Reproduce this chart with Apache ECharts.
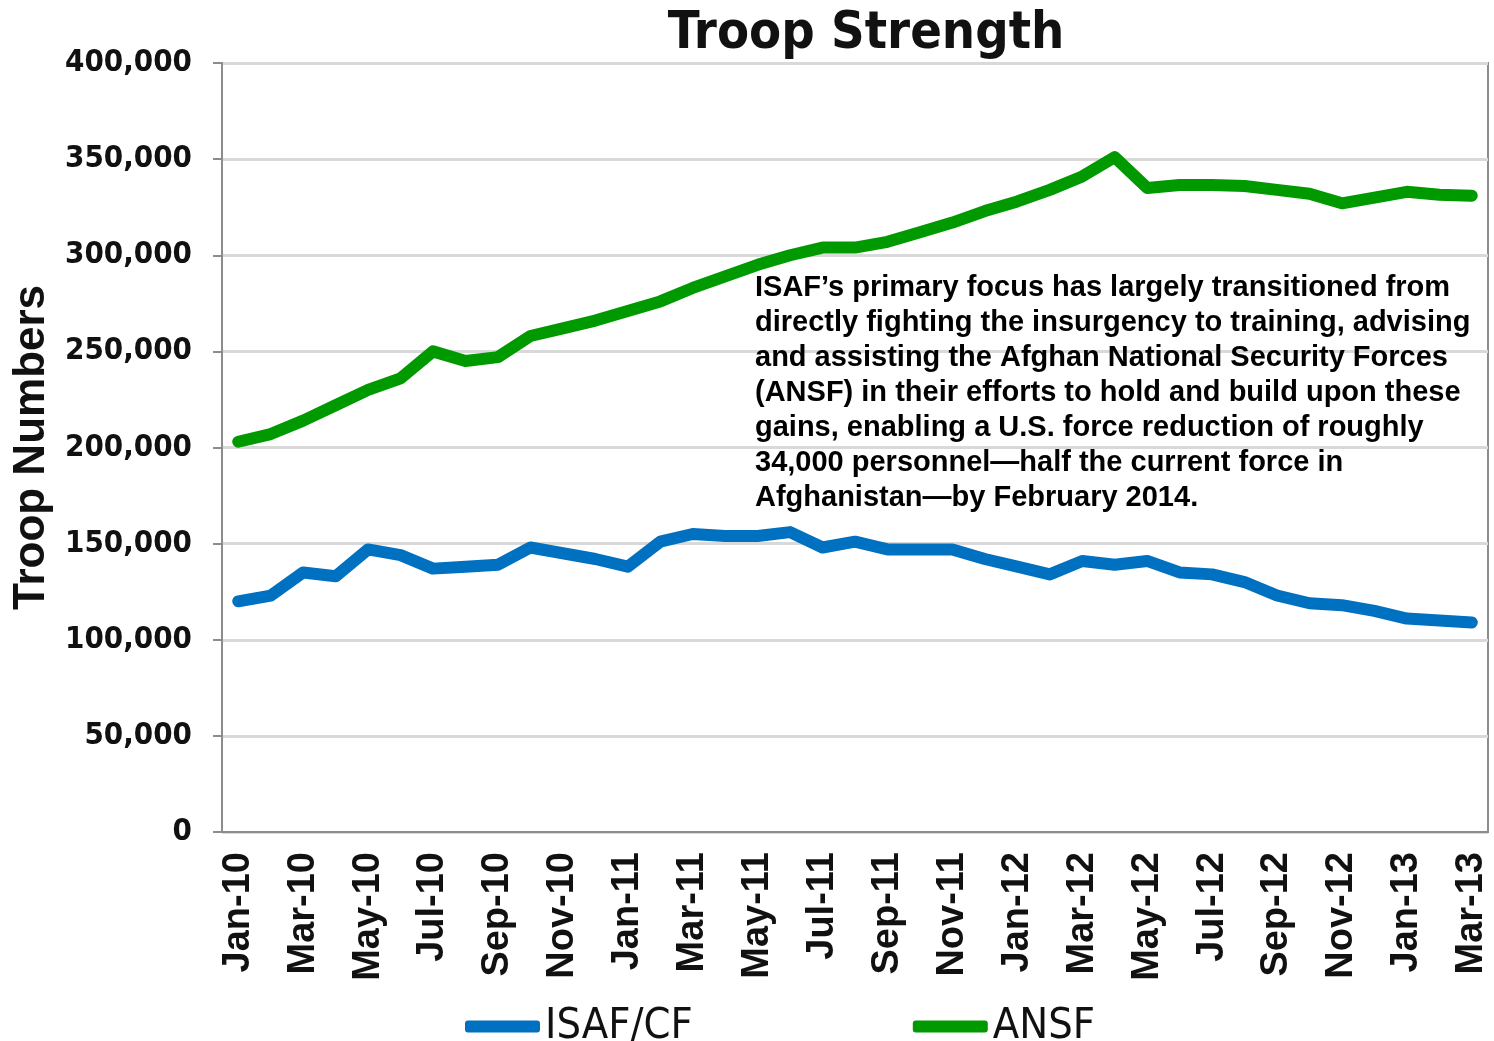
<!DOCTYPE html>
<html><head><meta charset="utf-8">
<script src="https://cdn.jsdelivr.net/npm/echarts@6/dist/echarts.min.js"></script>
<style>html,body{margin:0;padding:0;background:#fff}#c{width:1494px;height:1041px}</style>
</head><body><div id="c"></div>
<script>
const months = ['Jan-10','Feb-10','Mar-10','Apr-10','May-10','Jun-10','Jul-10','Aug-10','Sep-10','Oct-10','Nov-10','Dec-10',
'Jan-11','Feb-11','Mar-11','Apr-11','May-11','Jun-11','Jul-11','Aug-11','Sep-11','Oct-11','Nov-11','Dec-11',
'Jan-12','Feb-12','Mar-12','Apr-12','May-12','Jun-12','Jul-12','Aug-12','Sep-12','Oct-12','Nov-12','Dec-12',
'Jan-13','Feb-13','Mar-13'];
const isafCF = [120000,123000,135000,133000,147000,144000,137000,138000,139000,148000,145000,142000,
138000,151000,155000,154000,154000,156000,148000,151000,147000,147000,147000,142000,
138000,134000,141000,139000,141000,135000,134000,130000,123000,119000,118000,115000,
111000,110000,109000];
const ansf = [203000,207000,214000,222000,230000,236000,250000,245000,247000,258000,262000,266000,
271000,276000,283000,289000,295000,300000,304000,304000,307000,312000,317000,323000,
328000,334000,341000,351000,335000,336500,336500,336000,334000,332000,327000,330000,
333000,331500,331000];
const yTicks = [0,50000,100000,150000,200000,250000,300000,350000,400000];
const seriesNames = ['ISAF/CF','ANSF'];
const titleText = 'Troop Strength';
const yName = 'Troop Numbers';
const noteLines = [
 'ISAF\u2019s primary focus has largely transitioned from',
 'directly fighting the insurgency to training, advising',
 'and assisting the Afghan National Security Forces',
 '(ANSF) in their efforts to hold and build upon these',
 'gains, enabling a U.S. force reduction of roughly',
 '34,000 personnel\u2014half the current force in',
 'Afghanistan\u2014by February 2014.'
];
const narrow = "'Liberation Sans Narrow','DejaVu Sans Condensed',sans-serif";
const arial = "'Liberation Sans',Arial,sans-serif";
const chart = echarts.init(document.getElementById('c'));
chart.setOption({
  animation:false,
  backgroundColor:'#fff',
  title:{text:titleText,left:861,top:3,textAlign:'center',
    textStyle:{fontFamily:narrow,fontWeight:'bold',fontSize:52,color:'#111'}},
  grid:{left:222,right:6,top:63,bottom:209,show:true,borderColor:'#8c8c8c',borderWidth:2,
    backgroundColor:'transparent',containLabel:false,outerBoundsMode:'none'},
  legend:{left:460,top:1000,itemGap:220,itemWidth:75,itemHeight:12,icon:'roundRect',
    textStyle:{fontFamily:narrow,fontSize:43,color:'#111',fontWeight:'normal'},
    data:seriesNames},
  xAxis:{type:'category',data:months,boundaryGap:true,
    axisLine:{lineStyle:{color:'#8c8c8c',width:2}},
    axisTick:{interval:1,length:10,lineStyle:{color:'#8c8c8c',width:2}},
    axisLabel:{interval:1,rotate:90,margin:20,fontFamily:arial,fontWeight:'bold',fontSize:38,color:'#111'},
    splitLine:{show:false}},
  yAxis:{type:'value',min:0,max:400000,interval:50000,
    name:yName,nameLocation:'middle',nameGap:166,nameRotate:90,
    nameTextStyle:{fontFamily:arial,fontWeight:'bold',fontSize:44,color:'#111'},
    axisLine:{show:true,lineStyle:{color:'#8c8c8c',width:2}},
    axisTick:{show:true,length:9,lineStyle:{color:'#8c8c8c',width:2}},
    axisLabel:{margin:30,fontFamily:narrow,fontWeight:'bold',fontSize:31,color:'#111',
      formatter:v=>yTicks.includes(v)?v.toLocaleString('en-US'):''},
    splitLine:{lineStyle:{color:'#d9d9d9',width:3}}},
  graphic:[{type:'text',left:755,top:270,z:10,
    style:{text:noteLines.join('\n'),fontFamily:arial,fontWeight:'bold',fontSize:29,lineHeight:35,fill:'#000'}}],
  series:[
    {name:seriesNames[0],type:'line',data:isafCF,symbol:'none',smooth:false,color:'#0070C0',
      lineStyle:{width:12,color:'#0070C0',cap:'round',join:'round'}},
    {name:seriesNames[1],type:'line',data:ansf,symbol:'none',smooth:false,color:'#009A00',
      lineStyle:{width:12,color:'#009A00',cap:'round',join:'round'}}
  ]
});
</script></body></html>
